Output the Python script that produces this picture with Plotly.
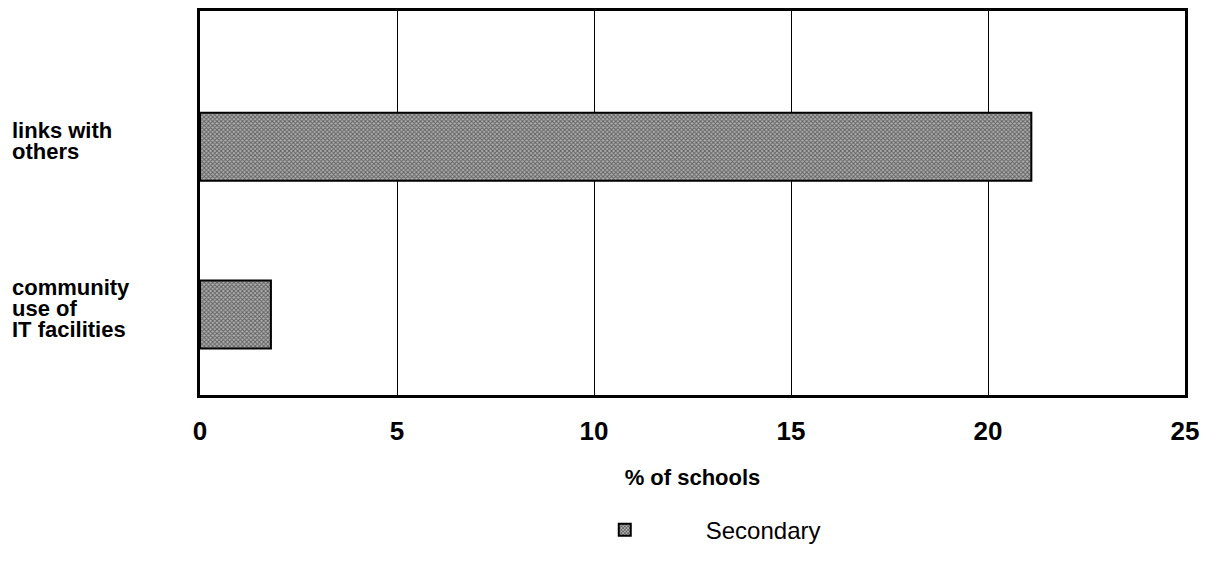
import plotly.graph_objects as go

categories = ["community use of IT facilities", "links with others"]
label_lines = [["community", "use of", "IT facilities"], ["links with", "others"]]
secondary = [1.8, 21.1]
x_ticks = [0, 5, 10, 15, 20, 25]
series_name = "Secondary"
x_title = "% of schools"

fig = go.Figure()
fig.add_trace(go.Bar(
    y=categories, x=secondary, orientation="h", name=series_name,
    width=0.405,
    marker=dict(
        color="#9a9a9a",
        line=dict(color="black", width=2),
        pattern=dict(shape="x", size=3, solidity=0.55, fgcolor="#111111", bgcolor="#b0b0b0"),
    ),
    showlegend=True,
))

line_gap = 21
for cat, lines in zip(categories, label_lines):
    n = len(lines)
    for i, ln in enumerate(lines):
        fig.add_annotation(
            x=-0.193, xref="paper", y=cat, yref="y", text=ln, showarrow=False,
            xanchor="left", yanchor="middle", align="left",
            yshift=((n - 1) / 2 - i) * line_gap + 6,
            font=dict(family="Liberation Sans", size=22, color="black", weight="bold"),
        )

fig.update_layout(
    width=1215, height=563,
    margin=dict(l=200, r=30, t=11, b=168, autoexpand=False),
    paper_bgcolor="white", plot_bgcolor="white",
    font=dict(family="Liberation Sans", color="black"),
    bargap=0.5,
    legend=dict(
        x=0.349, y=-0.352, xanchor="left", yanchor="middle",
        font=dict(family="Liberation Sans", size=24, color="black"),
        itemwidth=152, bgcolor="rgba(0,0,0,0)",
    ),
    xaxis=dict(
        range=[0, 25], tickvals=x_ticks, ticktext=[str(t) for t in x_ticks],
        showgrid=True, gridcolor="black", gridwidth=1,
        showline=True, linecolor="black", linewidth=3, mirror=True,
        zeroline=False, ticks="", ticklabelstandoff=11,
        tickfont=dict(family="Liberation Sans", size=26, color="black", weight="bold"),
        title=dict(text=x_title, standoff=25,
                   font=dict(family="Liberation Sans", size=22, color="black", weight="bold")),
    ),
    yaxis=dict(
        type="category", categoryorder="array", categoryarray=categories,
        range=[-0.48, 1.81], showticklabels=False, showgrid=False,
        showline=True, linecolor="black", linewidth=3, mirror=True, ticks="",
    ),
)

fig.write_html("out.html", config={"displayModeBar": False},
               post_script="document.body.style.margin='0';")
